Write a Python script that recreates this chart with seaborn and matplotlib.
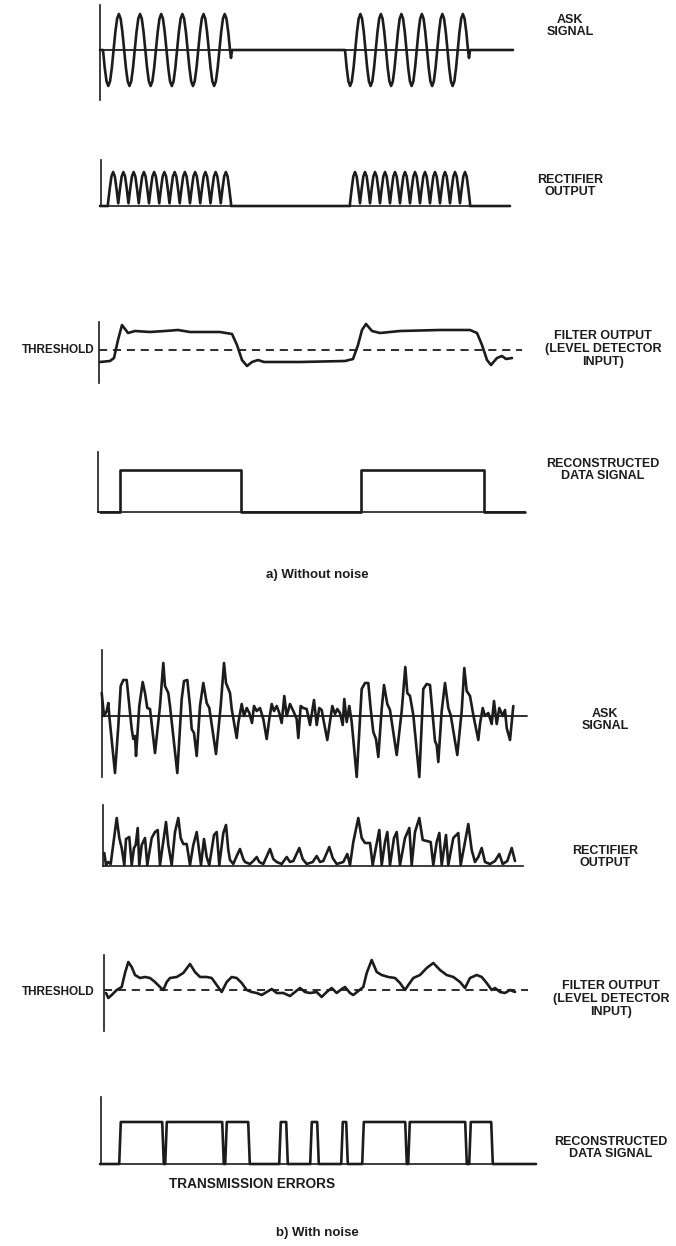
import numpy as np
import pandas as pd
import matplotlib
matplotlib.use("Agg")
import matplotlib.pyplot as plt
import seaborn as sns
from matplotlib import font_manager

# ---------------- data ----------------
# Time is in sample ticks, levels in display units.

# a) noiseless receiver chain
carrier_cycle = [0.0, -0.5, -0.87, -1.0, -0.87, -0.5, 0.0, 0.5, 0.87, 1.0, 0.87, 0.5]
ask_bursts = [(3, 130), (245, 368)]
ask_cycles = 6
ask_amplitude = 36
ask_end = 413

rectified_hump = [0.08, 0.5, 0.87, 1.0, 0.87, 0.5]
rect_bursts = [(8, 131), (250, 370)]
rect_humps = 12
rect_amplitude = 34
rect_end = 410

filter_a_t = [0, 10, 14, 18, 22, 28, 35, 50, 65, 78, 90, 120, 132, 137, 142, 147,
              152, 158, 164, 200, 245, 253, 258, 262, 266, 272, 280, 300, 340, 370,
              377, 382, 387, 391, 397, 402, 406, 412]
filter_a_v = [-12, -11, -8, 10, 25, 17, 19, 18, 19, 20, 18, 18, 16, 5, -10, -16,
              -12, -10, -12, -12, -11, -9, 5, 20, 26, 19, 17, 19, 20, 20,
              17, 5, -10, -15, -8, -6, -9, -8]
threshold_a_end = 422

data_a_pulses = [(20, 141), (261, 384)]
data_a_end = 425

# b) receiver chain with noise
ask_b_t = [1.7, 4, 6.7, 8.3, 9.3, 15, 18.3, 20.7, 23.3, 26.7, 29.3, 31.7, 33.3, 35, 36,
           39.3, 42.7, 45, 47.3, 50, 55, 60, 63.3, 65, 68.3, 70, 77.3, 81.7, 84, 87.3,
           90, 91.7, 94, 96.7, 100, 103.3, 106.7, 109.3, 116, 120.7, 124, 126, 130,
           131.7, 136.7, 138.3, 141.7, 144, 146.7, 149.3, 152, 154, 156.7, 160, 163.3,
           166.7, 169.3, 171.7, 174, 176.7, 179.3, 181.7, 184.3, 186.7, 190, 193.3,
           196.7, 198.3, 200.7, 203.3, 206.7, 210, 214, 216.7, 219.3, 221.7, 223.3,
           227.3, 230, 232.3, 235, 237.3, 240, 242.7, 244.3, 246.7, 249.3, 251.7,
           256.7, 261.7, 265, 268.3, 270.7, 273.3, 276, 278.3, 281.7, 284, 287.3, 290,
           296.7, 301.7, 305.3, 307.3, 310, 313.3, 319.3, 323.3, 326.7, 330, 332.7,
           335, 336.7, 338.3, 341.7, 345, 348.3, 350.7, 357.3, 361.7, 364.3, 366.7,
           370, 373.3, 378.3, 380, 382.7, 385, 388.3, 391.7, 394, 396.7, 399.3, 402.7,
           405, 406.7, 410, 413.3]
ask_b_v = [23, 0, 5, 13, 0, -57, -10, 30, 36, 36, 10, -13, -23, -20, -40,
           10, 34, 23, 8, 7, -37, 10, 53, 30, 23, 10, -57, 17, 35, 36,
           10, -13, -17, -40, 10, 33, 13, 8, -38, 10, 53, 33, 23,
           7, -22, -7, 12, 0, 8, 3, -7, 10, 5, 8, -3,
           -23, -3, 12, 5, 10, 3, -7, 20, 0, 12, 5,
           -3, -22, 10, 8, 7, -9, 16, -9, 8, 6, -3,
           -24, -6, 10, 2, 7, 3, -9, 17, -6, 10, -6,
           -61, 27, 33, 33, 7, -16, -23, -41, 7, 31, 12, 6,
           -39, 5, 49, 23, 20, 1, -61, 27, 32, 31, 1,
           -25, -29, -46, 5, 33, 8, 1, -39, 5, 48, 25,
           20, 1, -24, -8, 8, 0, 3, -8, 15, -8, 8, 0,
           6, -12, -24, 10]
ask_b_end = 427

rect_b_t = [4.3, 6, 8.3, 10.7, 16.7, 19.3, 21.7, 24.3, 26, 29.3, 31.7, 34, 35.7, 37.7,
            39.3, 41.7, 45, 47.3, 51.7, 55, 57.7, 60, 66, 68.3, 71.7, 75, 78.3, 80.7,
            83.3, 86.7, 90, 93.3, 96.7, 99.3, 101, 104, 106.7, 109.3, 114, 116.7, 119.3,
            123.3, 126, 128.3, 130, 133.3, 136.7, 140, 143.3, 145, 150, 153.3, 156.7,
            159.3, 163.3, 170, 173.3, 176.7, 181.7, 186.7, 190, 193.3, 199.3, 202.7,
            206.7, 212.7, 216.7, 220, 223.3, 229.3, 232.7, 236.7, 243.3, 247.3, 250,
            253.3, 258.3, 261.7, 265, 270, 272.7, 276, 279.3, 281.7, 285, 287.3, 290,
            294, 296.7, 300, 305, 309.3, 311.7, 315, 319.3, 322.7, 326.7, 330.7, 333.3,
            336.7, 339.3, 341.7, 346, 348.3, 353.3, 358.3, 360.7, 365, 368.3, 371.7,
            375, 378.3, 381.7, 385, 390, 395, 399.3, 402.7, 407.3, 411.7, 415]
rect_b_v = [13, 1, 4, 2, 48, 28, 18, 1, 27, 29, 1, 18, 21, 38,
            1, 21, 28, 1, 28, 34, 36, 1, 44, 21, 1, 34, 48, 28,
            22, 22, 1, 21, 34, 14, 1, 27, 9, 1, 31, 34, 1,
            33, 41, 16, 6, 2, 10, 17, 7, 4, 2, 5, 9,
            4, 2, 17, 7, 4, 2, 9, 4, 5, 18, 7,
            2, 4, 10, 4, 5, 19, 8, 2, 4, 12, 1,
            24, 48, 28, 23, 23, 1, 19, 36, 1, 24, 34, 1,
            28, 34, 1, 28, 38, 1, 34, 48, 26, 25, 24, 1,
            24, 33, 1, 31, 1, 28, 33, 1, 24, 42, 16,
            4, 9, 18, 4, 2, 5, 12, 2, 5, 18, 5]
rect_b_end = 423

filter_b_t = [6, 8.3, 11.7, 16.7, 21.7, 25, 28.3, 31.7, 35, 40, 45, 50, 55, 60, 63.3,
              66.7, 70, 76.7, 83.3, 90, 95, 100, 106.7, 111.7, 116.7, 121.7, 126.7,
              131.7, 136.7, 141.7, 146.7, 151.7, 156.7, 161.7, 166.7, 171.7, 176.7,
              183.3, 190, 195, 200, 205, 210, 216.7, 221.7, 226.7, 231.7, 236.7, 241.7,
              245, 250, 253.3, 258.3, 263.3, 266.7, 271.7, 276.7, 281.7, 288.3, 295,
              300, 305, 308.3, 313.3, 320, 326.7, 333.3, 340, 346.7, 353.3, 360, 365,
              370, 376.7, 381.7, 386.7, 391.7, 395, 400, 405, 410, 415]
filter_b_v = [-3, -8, -5, 0, 3, 17, 28, 23, 15, 12, 13, 12, 8, 3, 0,
              8, 12, 13, 17, 26, 18, 13, 13, 12, 5, -2, 8,
              13, 12, 7, 0, -2, -3, -5, -2, 1, -3,
              -3, -6, -2, 2, -2, -3, -2, -7, -2, 2, -3, 1,
              3, -3, -5, -1, 3, 17, 30, 18, 15, 13, 12,
              7, 0, 5, 12, 15, 22, 27, 20, 15, 13, 8, 2,
              12, 15, 13, 7, 0, 2, -2, -3, 0, -2]
threshold_b_end = 428

data_b_pulses = [(20, 63), (66, 123), (126, 149), (180, 187), (211, 218),
                 (242, 247), (263, 306), (309, 366), (370, 392)]
data_b_end = 436

# ---------------- series construction ----------------
def carrier_series(bursts, cycle, n_cycles, amp, end):
    t, v = [0.0], [0.0]
    for s, e in bursts:
        vals = list(np.tile(cycle, n_cycles)) + [0.0]
        t += list(np.linspace(s, e, len(vals)))
        v += [amp * x for x in vals]
        t += [e + 1.0, e + 2.0]
        v += [-0.22 * amp, 0.0]
    t.append(end)
    v.append(0.0)
    return t, v


def rectified_series(bursts, hump, n_humps, amp, end):
    t, v = [0.0], [0.0]
    for s, e in bursts:
        vals = list(np.tile(hump, n_humps)) + [hump[0]]
        t += [s] + list(np.linspace(s, e, len(vals))) + [e]
        v += [0.0] + [amp * x for x in vals] + [0.0]
    t.append(end)
    v.append(0.0)
    return t, v


def pulse_series(pulses, end, slant=0.0):
    t, v = [0.0], [0.0]
    for s, e in pulses:
        t += [s - slant, s + slant, e - slant, e + slant]
        v += [0, 1, 1, 0]
    t.append(end)
    v.append(0)
    return t, v


# ---------------- styling ----------------
sns.set_theme(style="white")
names = {f.name for f in font_manager.fontManager.ttflist}
cond = "Liberation Sans Narrow" if "Liberation Sans Narrow" in names else "Liberation Sans"
plt.rcParams["font.family"] = [cond, "DejaVu Sans"]

INK = "#1c1c1c"
TRACE_LW = 1.9
AXIS_LW = 1.2

W, H = 676, 1246
fig = plt.figure(figsize=(W / 100, H / 100), dpi=100)
fig.patch.set_facecolor("white")


def panel(x0, x1, y0, y1, ylim, bottom=False):
    ax = fig.add_axes([x0 / W, 1 - y1 / H, (x1 - x0) / W, (y1 - y0) / H])
    ax.set_xlim(x0 - 100, x1 - 100)
    ax.set_ylim(*ylim)
    ax.set_facecolor("none")
    for side in ("top", "right"):
        ax.spines[side].set_visible(False)
    ax.spines["bottom"].set_visible(bottom)
    for side in ("left", "bottom"):
        ax.spines[side].set_color(INK)
        ax.spines[side].set_linewidth(AXIS_LW)
    ax.set_xticks([])
    ax.set_yticks([])
    ax.set_xlabel("")
    ax.set_ylabel("")
    return ax


def trace(ax, t, v):
    df = pd.DataFrame({"t": t, "v": v})
    sns.lineplot(data=df, x="t", y="v", ax=ax, color=INK, lw=TRACE_LW,
                 estimator=None, sort=False, legend=False)
    for ln in ax.lines:
        ln.set_clip_on(False)
        ln.set_solid_joinstyle("round")
    ax.set_xlabel("")
    ax.set_ylabel("")


def label(x, y, s, size=9.0, **kw):
    fig.text(x / W, 1 - y / H, s, ha=kw.pop("ha", "center"), va="center",
             fontsize=size, fontweight="bold", color=INK, linespacing=1.08, **kw)


# ---- a) without noise ----
ax = panel(100, 513, 5, 100, (-50, 45))
ax.axhline(0, color=INK, lw=1.3)
trace(ax, *carrier_series(ask_bursts, carrier_cycle, ask_cycles, ask_amplitude, ask_end))

ax = panel(101, 510, 160, 206, (0, 46), bottom=True)
trace(ax, *rectified_series(rect_bursts, rectified_hump, rect_humps, rect_amplitude, rect_end))

ax = panel(99, 522, 322, 383, (-33, 28))
ax.axhline(0, color=INK, lw=1.3, ls=(0, (4.5, 3.2)))
trace(ax, filter_a_t, filter_a_v)

ax = panel(98, 525, 452, 512, (0, 60 / 42), bottom=True)
trace(ax, *pulse_series(data_a_pulses, data_a_end))

# ---- b) with noise ----
ax = panel(102, 527, 650, 777, (-61, 66))
ax.axhline(0, color=INK, lw=1.3)
trace(ax, ask_b_t, ask_b_v)

ax = panel(103, 523, 805, 866, (0, 61), bottom=True)
trace(ax, rect_b_t, rect_b_v)

ax = panel(104, 528, 955, 1031, (-41, 35))
ax.axhline(0, color=INK, lw=1.3, ls=(0, (4.5, 3.2)))
trace(ax, filter_b_t, filter_b_v)

ax = panel(101, 536, 1097, 1164, (0, 67 / 42), bottom=True)
trace(ax, *pulse_series(data_b_pulses, data_b_end, slant=0.8))

# ---- labels ----
label(570, 26, "ASK\nSIGNAL")
label(570, 186, "RECTIFIER\nOUTPUT")
label(603, 349, "FILTER OUTPUT\n(LEVEL DETECTOR\nINPUT)")
label(95, 350, "THRESHOLD", size=8.5, ha="right")
label(603, 470, "RECONSTRUCTED\nDATA SIGNAL")
fig.text(317 / W, 1 - 575 / H, "a) Without noise", ha="center", va="center",
         fontsize=9.5, fontweight="bold", color=INK, family=["Liberation Sans", "DejaVu Sans"])

label(605, 720, "ASK\nSIGNAL")
label(605, 857, "RECTIFIER\nOUTPUT")
label(611, 999, "FILTER OUTPUT\n(LEVEL DETECTOR\nINPUT)")
label(95, 992, "THRESHOLD", size=8.5, ha="right")
label(611, 1148, "RECONSTRUCTED\nDATA SIGNAL")
label(252, 1184, "TRANSMISSION ERRORS", size=9.8)
fig.text(317 / W, 1 - 1233 / H, "b) With noise", ha="center", va="center",
         fontsize=9.5, fontweight="bold", color=INK, family=["Liberation Sans", "DejaVu Sans"])

fig.savefig("out.png", dpi=100, facecolor="white")
